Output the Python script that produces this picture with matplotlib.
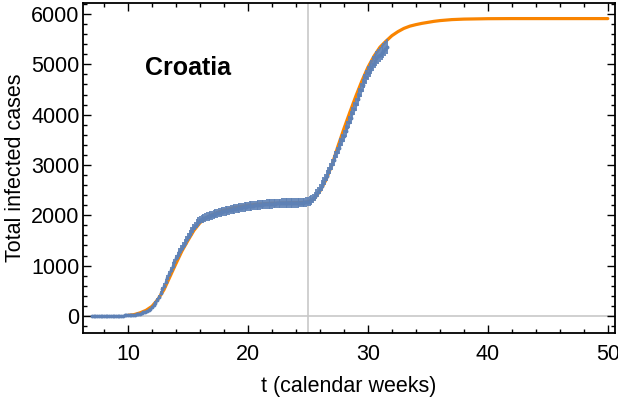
import numpy as np
import matplotlib
matplotlib.use("Agg")
import matplotlib.pyplot as plt
from matplotlib.ticker import MultipleLocator

plt.rcParams['font.family'] = ['Liberation Sans', 'DejaVu Sans']

# ---- Data: observed total infected cases (daily, t in calendar weeks) ----
data_start_week = 7.0
data_cases = [
    0, 0, 0, 0, 0, 0, 0,                                  # week 7
    0, 0, 0, 0, 1, 1, 1,                                  # week 8
    2, 3, 5, 6, 7, 9, 10,                                 # week 9
    11, 13, 15, 18, 22, 28, 35,                           # week 10
    45, 55, 68, 82, 100, 120, 142,                        # week 11
    170, 215, 265, 320, 385, 455, 525,                    # week 12
    600, 680, 760, 840, 920, 1000, 1075,                  # week 13
    1150, 1210, 1270, 1330, 1390, 1450, 1510,             # week 14
    1570, 1630, 1690, 1740, 1790, 1835, 1875,             # week 15
    1905, 1925, 1940, 1955, 1968, 1980, 1992,             # week 16
    2003, 2015, 2027, 2038, 2048, 2058, 2067,             # week 17
    2076, 2085, 2093, 2101, 2109, 2117, 2124,             # week 18
    2131, 2138, 2145, 2152, 2158, 2164, 2170,             # week 19
    2176, 2181, 2186, 2191, 2196, 2200, 2204,             # week 20
    2208, 2212, 2215, 2218, 2221, 2224, 2227,             # week 21
    2229, 2231, 2233, 2235, 2237, 2239, 2240,             # week 22
    2241, 2242, 2243, 2244, 2245, 2246, 2247,             # week 23
    2248, 2249, 2250, 2252, 2254, 2257, 2262,             # week 24
    2270, 2285, 2305, 2335, 2375, 2420, 2470,             # week 25
    2530, 2590, 2650, 2715, 2785, 2860, 2935,             # week 26
    3010, 3090, 3170, 3250, 3330, 3410, 3495,             # week 27
    3580, 3670, 3760, 3850, 3940, 4030, 4120,             # week 28
    4210, 4305, 4400, 4490, 4580, 4665, 4745,             # week 29
    4820, 4890, 4955, 5015, 5070, 5120, 5160,             # week 30
    5195, 5235, 5275, 5315, 5350,                         # week 31
]

# ---- Model fit curve ----
model_weeks = [10, 10.5, 11, 11.5, 12, 12.5, 13, 13.5, 14, 14.5, 15, 15.5, 16,
               16.5, 17, 17.5, 18, 18.5, 19, 19.5, 20, 21, 22, 23, 24, 24.5,
               25, 25.5, 26, 26.5, 27, 27.5, 28, 28.5, 29, 29.5, 30, 30.5, 31,
               31.5, 32, 32.5, 33, 33.5, 34, 34.5, 35, 35.5, 36, 37, 38, 40,
               42, 44, 46, 48, 50]
model_cases = [12, 25, 60, 110, 190, 330, 520, 780, 1040, 1290, 1500, 1700, 1850,
               1950, 2010, 2060, 2100, 2130, 2160, 2180, 2200, 2225, 2240, 2245, 2250, 2255,
               2265, 2320, 2480, 2700, 3000, 3370, 3720, 4050, 4370, 4670, 4940, 5160, 5340,
               5460, 5570, 5650, 5715, 5760, 5790, 5815, 5835, 5855, 5870, 5890, 5900, 5908,
               5910, 5910, 5910, 5910, 5910]

country = "Croatia"
intervention_week = 25

# ---- Figure ----
W, H = 618, 397
fig = plt.figure(figsize=(W / 100, H / 100), dpi=100)
ax = fig.add_axes([83 / W, 1 - 333 / H, (615 - 83) / W, (333 - 3) / H])

t_data = data_start_week + np.arange(len(data_cases)) / 7.0
y_data = np.array(data_cases, dtype=float)
y_err = 2.0 * np.sqrt(y_data)

ax.axhline(0, color='#c8c8c8', lw=1.2, zorder=1)
ax.axvline(intervention_week, color='#c8c8c8', lw=1.2, zorder=1)

ax.plot(model_weeks, model_cases, color='#f98400', lw=2.3, zorder=2,
        solid_capstyle='round')

ax.errorbar(t_data, y_data, yerr=y_err, fmt='o',
            color='#5e81b5', ms=2.8, mew=0, elinewidth=1.3, capsize=1.3,
            capthick=1.0, zorder=3)

ax.text(15, 4920, country, fontsize=18, fontweight='bold',
        ha='center', va='center')

ax.set_xlim(6.25, 50.6)
ax.set_ylim(-340, 6220)

ax.xaxis.set_major_locator(MultipleLocator(10))
ax.xaxis.set_minor_locator(MultipleLocator(2))
ax.yaxis.set_major_locator(MultipleLocator(1000))
ax.yaxis.set_minor_locator(MultipleLocator(200))

ax.tick_params(which='both', direction='in', top=True, right=True,
               width=1.0, color='black')
ax.tick_params(which='major', length=5.5)
ax.tick_params(which='minor', length=3)
ax.tick_params(axis='x', which='major', labelsize=15.5, pad=8)
ax.tick_params(axis='y', which='major', labelsize=15.5, pad=2.5)

for s in ax.spines.values():
    s.set_linewidth(1.3)
    s.set_color('black')

ax.set_xlabel("t (calendar weeks)", fontsize=15.5, labelpad=8)
ax.set_ylabel("Total infected cases", fontsize=15.5, labelpad=4)

fig.savefig("out.png", dpi=100)
